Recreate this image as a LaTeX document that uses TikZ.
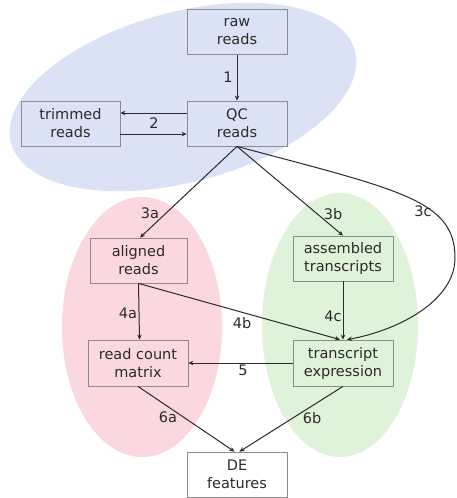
\documentclass[tikz,border=0pt]{standalone}
\usepackage{fontspec}
\setmainfont{DejaVu Sans}
\usetikzlibrary{arrows.meta}
\definecolor{ellblue}{HTML}{DCE2F6}
\definecolor{ellpink}{HTML}{FBD8DF}
\definecolor{ellgreen}{HTML}{DFF2DA}
\definecolor{boxline}{HTML}{8C8C8C}
\definecolor{edgecol}{HTML}{2A2A2A}
\begin{document}
\begin{tikzpicture}[x=1pt,y=-1pt,
  font=\fontsize{14.5}{18}\selectfont,
  stagebox/.style={draw=boxline, line width=0.8pt, minimum width=100pt, minimum height=45pt, align=center, inner sep=0pt, text=edgecol},
  flow/.style={draw=edgecol, line width=1pt, -{Stealth[length=5pt,width=4.5pt]}},
  lbl/.style={inner sep=0pt, text=edgecol}]
\useasboundingbox (0,0) rectangle (457,498);
% groups
\fill[ellblue, rotate around={15:(183,97)}] (183,97) ellipse [x radius=178pt, y radius=85pt];
\fill[ellpink] (142,327) ellipse [x radius=80pt, y radius=130pt];
\fill[ellgreen] (340,325) ellipse [x radius=78pt, y radius=132pt];
% nodes
\node[stagebox] (raw) at (237,32) {raw\\reads};
\node[stagebox, minimum width=99pt] (trim) at (70.5,123.5) {trimmed\\reads};
\node[stagebox] (qc) at (237,123.5) {QC\\reads};
\node[stagebox, minimum width=97pt] (aln) at (138.5,260.5) {aligned\\reads};
\node[stagebox] (asm) at (343,258.5) {assembled\\transcripts};
\node[stagebox, minimum height=46pt] (cnt) at (138,363) {read count\\matrix};
\node[stagebox, minimum height=46pt] (expr) at (343,363) {transcript\\expression};
\node[stagebox] (de) at (237,474.5) {DE\\features};
\coordinate (bend) at (455,258);
% edges
\draw[flow] (raw.south) -- (qc.north);
\draw[flow] ([yshift=10.5pt]qc.west) -- ([yshift=10.5pt]trim.east);
\draw[flow] ([yshift=-10.5pt]trim.east) -- ([yshift=-10.5pt]qc.west);
\draw[flow] (qc.south) -- ([xshift=1.5pt]aln.north);
\draw[flow] (qc.south) -- (asm.north);
\draw[flow] (qc.south) .. controls (400,190) and (455,200) .. (bend) .. controls (455,300) and (400,330) .. ([xshift=4pt]expr.north);
\draw[flow] (aln.south) -- ([xshift=1.5pt]cnt.north);
\draw[flow] (aln.south) -- ([xshift=-3pt]expr.north);
\draw[flow] (asm.south) -- (expr.north);
\draw[flow] (expr.west) -- (cnt.east);
\draw[flow] (cnt.south) -- ([xshift=-2.5pt]de.north);
\draw[flow] (expr.south) -- ([xshift=2.5pt]de.north);
% labels
\node[lbl] (l1) at (228,77) {1};
\node[lbl] (l2) at (154,123) {2};
\node[lbl] (l3a) at (150,213) {3a};
\node[lbl] (l3b) at (333,214) {3b};
\node[lbl] (l3c) at (423,211) {3c};
\node[lbl] (l4a) at (128,313) {4a};
\node[lbl] (l4b) at (242,323) {4b};
\node[lbl] (l4c) at (333,316) {4c};
\node[lbl] (l5) at (243,370) {5};
\node[lbl] (l6a) at (168,417) {6a};
\node[lbl] (l6b) at (312,418) {6b};
\end{tikzpicture}
\end{document}
